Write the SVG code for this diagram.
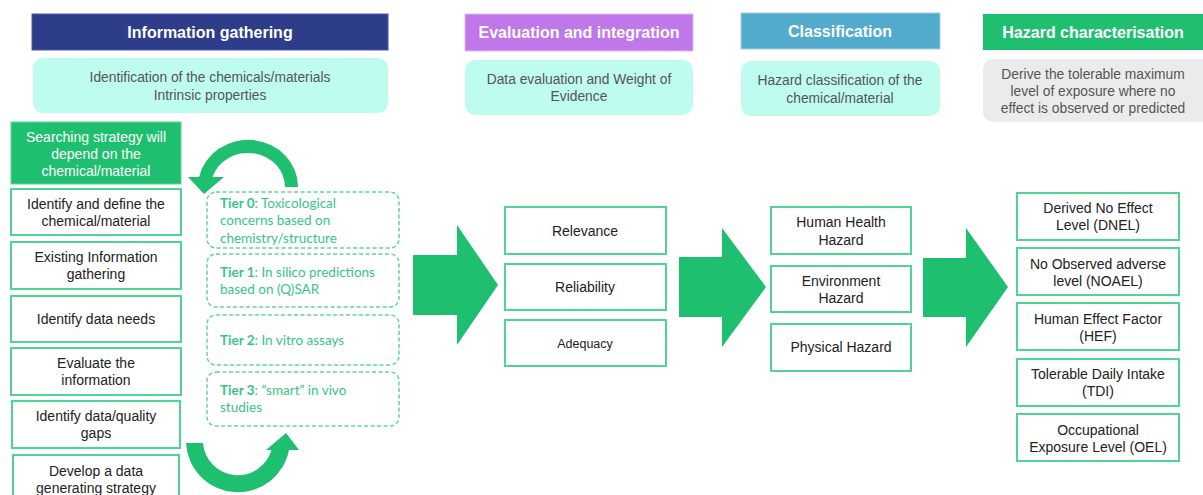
<svg xmlns="http://www.w3.org/2000/svg" width="1203" height="495" viewBox="0 0 1203 495">
<style>
.hdr{font-family:"Liberation Sans",Arial,sans-serif;font-weight:bold;font-size:16px;fill:#fff;text-anchor:middle}
.sub{font-family:"Liberation Sans",Arial,sans-serif;font-size:13.8px;fill:#555;text-anchor:middle}
.box{fill:#fff;stroke:#4fd494;stroke-width:2}
.txt{font-family:"Liberation Sans",Arial,sans-serif;font-size:14px;fill:#222;text-anchor:middle}
.tier{fill:#fff;stroke:#5fd69c;stroke-width:1.5;stroke-dasharray:4 2.5}
.tt{font-family:Lato,"Open Sans",sans-serif;font-size:13.5px;fill:#38c488}
.tt tspan.b{font-weight:bold}
.big{fill:#1ebf6e}
.cyan{fill:#bffcf0}
</style>
<rect width="1203" height="495" fill="#fff"/>

<g id="hdr-info">
<rect x="32" y="14" width="356" height="36" fill="#2d3d8a" stroke="#4a5aa8" stroke-width="1"/>
<text class="hdr" x="210" y="38">Information gathering</text>
</g>
<g id="sub-info">
<rect class="cyan" x="33" y="58" width="355" height="55" rx="10"/>
<text class="sub" x="210" y="82">Identification of the chemicals/materials</text>
<text class="sub" x="210" y="100">Intrinsic properties</text>
</g>
<g id="hdr-eval">
<rect x="465" y="14" width="228" height="37" fill="#c077ea" stroke="#e0b8f5" stroke-width="1"/>
<text class="hdr" x="579" y="38">Evaluation and integration</text>
</g>
<g id="sub-eval">
<rect class="cyan" x="465" y="60" width="228" height="55" rx="10"/>
<text class="sub" x="579" y="84">Data evaluation and Weight of</text>
<text class="sub" x="579" y="101">Evidence</text>
</g>
<g id="hdr-class">
<rect x="741" y="13" width="199" height="36" fill="#52aacd" stroke="#9fd0e6" stroke-width="1"/>
<text class="hdr" x="840" y="37">Classification</text>
</g>
<g id="sub-class">
<rect class="cyan" x="741" y="61" width="199" height="55" rx="10"/>
<text class="sub" x="840" y="85">Hazard classification of the</text>
<text class="sub" x="840" y="103">chemical/material</text>
</g>
<g id="hdr-hazard">
<rect x="983" y="14" width="222" height="36" fill="#1fbf6f"/>
<text class="hdr" x="1093" y="38">Hazard characterisation</text>
</g>
<g id="sub-hazard">
<rect x="983" y="59" width="230" height="63" rx="10" fill="#ebebeb"/>
<text class="sub" x="1093" y="79">Derive the tolerable maximum</text>
<text class="sub" x="1093" y="96">level of exposure where no</text>
<text class="sub" x="1093" y="113">effect is observed or predicted</text>
</g>

<g id="search">
<rect x="11" y="122" width="170" height="62" fill="#1ebf6e" stroke="#5fd69c" stroke-width="1"/>
<text class="txt" x="96" y="142" style="fill:#fff">Searching strategy will</text>
<text class="txt" x="96" y="159" style="fill:#fff">depend on the</text>
<text class="txt" x="96" y="176" style="fill:#fff">chemical/material</text>
</g>
<g id="step1">
<rect class="box" x="11" y="189" width="170" height="46"/>
<text class="txt" x="96" y="209">Identify and define the</text>
<text class="txt" x="96" y="226">chemical/material</text>
</g>
<g id="step2">
<rect class="box" x="11" y="242" width="170" height="47"/>
<text class="txt" x="96" y="262">Existing Information</text>
<text class="txt" x="96" y="279">gathering</text>
</g>
<g id="step3">
<rect class="box" x="11" y="296" width="170" height="46"/>
<text class="txt" x="96" y="324">Identify data needs</text>
</g>
<g id="step4">
<rect class="box" x="11" y="348" width="170" height="47"/>
<text class="txt" x="96" y="368">Evaluate the</text>
<text class="txt" x="96" y="385">information</text>
</g>
<g id="step5">
<rect class="box" x="12" y="401" width="168" height="47"/>
<text class="txt" x="96" y="421">Identify data/quality</text>
<text class="txt" x="96" y="438">gaps</text>
</g>
<g id="step6">
<rect class="box" x="13" y="455" width="166" height="50"/>
<text class="txt" x="96" y="476">Develop a data</text>
<text class="txt" x="96" y="493">generating strategy</text>
</g>

<g id="tier0">
<rect class="tier" x="207" y="192" width="192" height="56" rx="9"/>
<text class="tt" x="220" y="208"><tspan class="b">Tier 0</tspan>: Toxicological</text>
<text class="tt" x="220" y="225">concerns based on</text>
<text class="tt" x="220" y="243">chemistry/structure</text>
</g>
<g id="tier1">
<rect class="tier" x="207" y="254" width="192" height="53" rx="9"/>
<text class="tt" x="220" y="277"><tspan class="b">Tier 1</tspan>: In silico predictions</text>
<text class="tt" x="220" y="294">based on (Q)SAR</text>
</g>
<g id="tier2">
<rect class="tier" x="207" y="315" width="192" height="50" rx="9"/>
<text class="tt" x="220" y="345"><tspan class="b">Tier 2</tspan>: In vitro assays</text>
</g>
<g id="tier3">
<rect class="tier" x="207" y="372" width="192" height="54" rx="9"/>
<text class="tt" x="220" y="395"><tspan class="b">Tier 3</tspan>: “smart” in vivo</text>
<text class="tt" x="220" y="412">studies</text>
</g>

<g id="relevance">
<rect class="box" x="505" y="207" width="161" height="47"/>
<text class="txt" x="585" y="236">Relevance</text>
</g>
<g id="reliability">
<rect class="box" x="505" y="264" width="161" height="46"/>
<text class="txt" x="585" y="292">Reliability</text>
</g>
<g id="adequacy">
<rect class="box" x="505" y="320" width="161" height="46"/>
<text class="txt" x="585" y="348" style="font-size:12.5px">Adequacy</text>
</g>

<g id="human">
<rect class="box" x="771" y="207" width="140" height="47"/>
<text class="txt" x="841" y="227">Human Health</text>
<text class="txt" x="841" y="245">Hazard</text>
</g>
<g id="environment">
<rect class="box" x="771" y="266" width="140" height="46"/>
<text class="txt" x="841" y="286">Environment</text>
<text class="txt" x="841" y="303">Hazard</text>
</g>
<g id="physical">
<rect class="box" x="771" y="324" width="140" height="47"/>
<text class="txt" x="841" y="352">Physical Hazard</text>
</g>

<g id="dnel">
<rect class="box" x="1017" y="193" width="162" height="47"/>
<text class="txt" x="1098" y="213">Derived No Effect</text>
<text class="txt" x="1098" y="230">Level (DNEL)</text>
</g>
<g id="noael">
<rect class="box" x="1017" y="248" width="162" height="47"/>
<text class="txt" x="1098" y="269">No Observed adverse</text>
<text class="txt" x="1098" y="286">level (NOAEL)</text>
</g>
<g id="hef">
<rect class="box" x="1017" y="303" width="162" height="47"/>
<text class="txt" x="1098" y="324">Human Effect Factor</text>
<text class="txt" x="1098" y="341">(HEF)</text>
</g>
<g id="tdi">
<rect class="box" x="1017" y="359" width="162" height="47"/>
<text class="txt" x="1098" y="379">Tolerable Daily Intake</text>
<text class="txt" x="1098" y="396">(TDI)</text>
</g>
<g id="oel">
<rect class="box" x="1017" y="414" width="162" height="47"/>
<text class="txt" x="1098" y="435">Occupational</text>
<text class="txt" x="1098" y="452">Exposure Level (OEL)</text>
</g>

<g id="connectors">
<path class="big" d="M298 187 A50 47 0 0 0 199.1 177 L188 177 L204 194 L224 177 L212.6 177 A37 34 0 0 1 285 187 Z"/>
<path class="big" d="M186 443 A52 52 0 0 0 289 450 L299 450 L286 433 L266 450 L271.5 450 A35 35 0 0 1 203 443 Z"/>
<path class="big" d="M413 255 L457 255 L457 225 L498 285 L457 345 L457 315 L413 315 Z"/>
<path class="big" d="M679 257 L722 257 L722 228 L766 287 L722 347 L722 317 L679 317 Z"/>
<path class="big" d="M923 258 L966 258 L966 228 L1008 287 L966 347 L966 317 L923 317 Z"/>
</g>
</svg>
